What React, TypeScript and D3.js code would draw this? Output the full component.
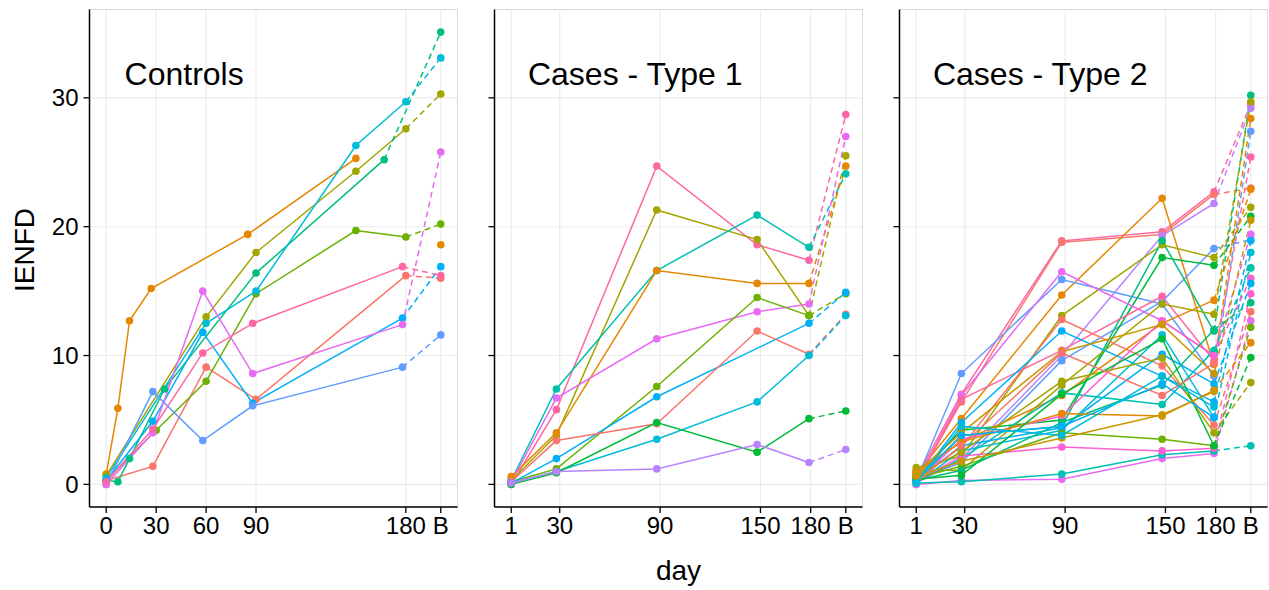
import React from 'react';
import * as d3 from 'd3';

// ggplot hue palette, 15 levels
const palette = [
  '#F8766D', '#E58700', '#C99800', '#A3A500', '#6BB100',
  '#00BA38', '#00BF7D', '#00C0AF', '#00BCD8', '#00B0F6',
  '#619CFF', '#B983FF', '#E76BF3', '#FD61D1', '#FF67A4',
];

const B_DAY = 201;
const panelTitles = ['Controls', 'Cases - Type 1', 'Cases - Type 2'];
const controlTicks = [0, 30, 60, 90, 180];
const caseTicks = [1, 30, 90, 150, 180];
const yTicks = [0, 10, 20, 30];

type Subject = { c: number; v: [number, number][]; b: number | null };

// controls: irregular visit days, [day, IENFD]
const controls: Subject[] = [
  { c: 0, v: [[0, 0.3], [28, 1.4], [60, 9.1], [90, 6.6], [180, 16.2]], b: 16.0 },
  { c: 1, v: [[0, 0.8], [7, 5.9], [14, 12.7], [27, 15.2], [85, 19.4], [150, 25.3]], b: 18.6 },
  { c: 3, v: [[0, 0.7], [60, 13.0], [90, 18.0], [150, 24.3], [180, 27.6]], b: 30.3 },
  { c: 4, v: [[0, 0.3], [30, 4.2], [60, 8.0], [90, 14.8], [150, 19.7], [180, 19.2]], b: 20.2 },
  { c: 6, v: [[0, 0.3], [7, 0.2], [14, 2.0], [35, 7.4], [90, 16.4], [167, 25.2]], b: 35.1 },
  { c: 8, v: [[0, 0.5], [60, 12.5], [90, 15.0], [150, 26.3], [180, 29.7]], b: 33.1 },
  { c: 9, v: [[0, 0.3], [28, 4.9], [58, 11.8], [88, 6.3], [178, 12.9]], b: 16.9 },
  { c: 10, v: [[0, 0.0], [28, 7.2], [58, 3.4], [88, 6.1], [178, 9.1]], b: 11.6 },
  { c: 12, v: [[0, 0.0], [28, 4.0], [58, 15.0], [88, 8.6], [178, 12.4]], b: 25.8 },
  { c: 14, v: [[0, 0.2], [28, 4.3], [58, 10.2], [88, 12.5], [178, 16.9]], b: 16.2 },
];

// cases: visits at fixed days
const caseDays = [1, 28, 88, 148, 179];

// [colour, day1, day30, day90, day150, day180, B]
const type1Rows: (number | null)[][] = [
  [14, 0.0, 5.8, 24.7, 18.6, 17.4, 28.7],
  [3, 0.3, 3.8, 21.3, 19.0, 13.1, 25.5],
  [7, 0.3, 7.4, 16.6, 20.9, 18.4, 24.1],
  [1, 0.6, 4.0, 16.6, 15.6, 15.6, 24.7],
  [12, 0.2, 6.7, 11.3, 13.4, 14.0, 27.0],
  [4, 0.2, 1.2, 7.6, 14.5, 13.1, 14.8],
  [9, 0.1, 2.0, 6.8, null, 12.5, 14.9],
  [0, 0.2, 3.4, 4.7, 11.9, 10.1, 13.2],
  [8, 0.1, 1.0, 3.5, 6.4, 10.0, 13.1],
  [5, 0.0, 0.9, 4.8, 2.5, 5.1, 5.7],
  [11, 0.1, 1.0, 1.2, 3.1, 1.7, 2.7],
];

const type2Rows: (number | null)[][] = [
  [14, 0.5, 7.0, 18.9, 19.6, 22.7, 29.5],
  [0, 0.2, 6.4, 18.8, 19.4, 22.5, 23.0],
  [11, 0.1, 2.0, 10.0, 19.3, 21.8, 29.2],
  [1, 0.8, 5.1, 14.7, 22.2, 9.3, 28.4],
  [10, 0.3, 8.6, 15.9, 14.0, 8.4, 27.4],
  [10, 0.4, 1.7, 9.6, 14.2, 18.3, 19.0],
  [3, 1.3, 2.2, 13.1, 18.6, 17.6, 21.5],
  [5, 0.6, 4.2, 5.0, 17.6, 17.0, 20.8],
  [6, 0.2, 3.8, 4.5, 18.9, 11.9, 30.2],
  [12, 0.0, 6.9, 16.5, 12.7, 10.0, 19.4],
  [14, 0.3, 6.6, 10.4, 14.6, 9.6, 25.4],
  [3, 1.1, 1.1, 7.7, 14.0, 13.2, 29.7],
  [1, 0.9, 3.3, 6.9, 12.5, 14.3, 22.9],
  [0, 0.4, 2.9, 12.8, 9.2, 4.6, 13.4],
  [9, 0.2, 4.8, 11.9, 8.4, 6.4, 18.9],
  [8, 0.1, 2.6, 4.2, 11.6, 5.2, 18.0],
  [7, 0.2, 2.0, 7.1, 6.2, 10.4, 16.8],
  [13, 0.2, 3.5, 5.3, 12.7, 10.0, 16.0],
  [9, 0.3, 3.0, 4.4, 10.1, 7.8, 15.6],
  [12, 0.0, 0.3, 0.4, 2.0, 2.4, 12.7],
  [7, 0.1, 0.2, 0.8, 2.3, 2.6, 3.0],
  [13, 0.2, 2.2, 2.9, 2.6, 2.8, 14.8],
  [4, 0.5, 1.4, 4.0, 3.5, 3.0, 12.2],
  [6, 0.3, 1.1, 4.8, 7.7, 12.0, 14.1],
  [1, 1.0, 3.3, 5.5, 5.3, 7.3, 11.0],
  [3, 0.7, 2.5, 8.0, 9.8, 4.0, 7.9],
  [5, 0.4, 0.7, 7.0, 11.3, 3.0, 9.85],
  [2, 0.9, 4.0, 10.3, 12.4, 8.6, 20.5],
  [0, 0.2, 3.0, 10.2, 6.9, 9.4, null],
  [9, 0.3, 3.8, 4.5, 7.8, 5.2, null],
  [2, 0.6, 1.8, 3.6, 5.4, 7.2, null],
  [8, 0.1, 4.5, 3.8, 8.4, 6.0, null],
];

function fromRows(rows: (number | null)[][]): Subject[] {
  return rows.map(r => ({
    c: r[0] as number,
    v: caseDays
      .map((d, i) => [d, r[i + 1]] as [number, number | null])
      .filter(p => p[1] != null) as [number, number][],
    b: r[6],
  }));
}

const panels = [
  { title: panelTitles[0], data: controls, ticks: controlTicks },
  { title: panelTitles[1], data: fromRows(type1Rows), ticks: caseTicks },
  { title: panelTitles[2], data: fromRows(type2Rows), ticks: caseTicks },
];

const W = 1269, H = 590;
const panelLefts = [89.5, 494.5, 899.5];
const panelW = 368;
const top = 9.5, bottom = 507;
const font = '"Liberation Sans", Arial, sans-serif';

function expand(lo: number, hi: number): [number, number] {
  const p = (hi - lo) * 0.05;
  return [lo - p, hi + p];
}

export default function App() {
  const allVals: number[] = [];
  panels.forEach(p => p.data.forEach(s => {
    s.v.forEach(d => allVals.push(d[1]));
    if (s.b != null) allVals.push(s.b);
  }));
  const y = d3.scaleLinear()
    .domain(expand(Math.min(0, d3.min(allVals)!), d3.max(allVals)!))
    .range([bottom, top]);

  return (
    <svg width={W} height={H} style={{ position: 'absolute', left: 0, top: 0, background: '#fff' }}
      fontFamily={font}>
      {panels.map((p, pi) => {
        const left = panelLefts[pi];
        const x = d3.scaleLinear()
          .domain(expand(p.ticks[0], B_DAY))
          .range([left, left + panelW]);
        const tickVals = [...p.ticks, B_DAY];
        const tickLabels = [...p.ticks.map(String), 'B'];
        const line = d3.line<[number, number]>().x(d => x(d[0])).y(d => y(d[1]));

        return (
          <g key={pi}>
            <rect x={left} y={top} width={panelW} height={bottom - top} fill="#fff" stroke="#d9d9d9" strokeWidth={1} />
            {yTicks.map(t => (
              <line key={'gy' + t} x1={left} x2={left + panelW} y1={y(t)} y2={y(t)} stroke="#ebebeb" strokeWidth={1.1} />
            ))}
            {tickVals.map(t => (
              <line key={'gx' + t} x1={x(t)} x2={x(t)} y1={top} y2={bottom} stroke="#ebebeb" strokeWidth={1.1} />
            ))}
            {p.data.map((s, i) => (
              <path key={'l' + i} d={line(s.v) || ''} fill="none" stroke={palette[s.c]} strokeWidth={1.5} />
            ))}
            {p.data.map((s, i) => {
              const last = s.v[s.v.length - 1];
              if (s.b == null || last[0] < 160) return null;
              return (
                <line key={'d' + i} x1={x(last[0])} y1={y(last[1])} x2={x(B_DAY)} y2={y(s.b)}
                  stroke={palette[s.c]} strokeWidth={1.5} strokeDasharray="6,4" />
              );
            })}
            {p.data.map((s, i) => (
              <g key={'p' + i} fill={palette[s.c]}>
                {s.v.map((d, j) => <circle key={j} cx={x(d[0])} cy={y(d[1])} r={3.8} />)}
                {s.b != null && <circle cx={x(B_DAY)} cy={y(s.b)} r={3.8} />}
              </g>
            ))}
            {/* axes */}
            <line x1={left} x2={left} y1={top} y2={bottom} stroke="#000" strokeWidth={1.5} />
            <line x1={left} x2={left + panelW} y1={bottom} y2={bottom} stroke="#000" strokeWidth={1.5} />
            {yTicks.map(t => (
              <line key={'ty' + t} x1={left - 6} x2={left} y1={y(t)} y2={y(t)} stroke="#000" strokeWidth={1.3} />
            ))}
            {pi === 0 && yTicks.map(t => (
              <text key={'yl' + t} x={left - 11} y={y(t)} dy="0.36em" textAnchor="end" fontSize={24}>{t}</text>
            ))}
            {tickVals.map((t, i) => (
              <g key={'tx' + t}>
                <line x1={x(t)} x2={x(t)} y1={bottom} y2={bottom + 6} stroke="#000" strokeWidth={1.3} />
                <text x={x(t)} y={bottom + 27} textAnchor="middle" fontSize={24}>{tickLabels[i]}</text>
              </g>
            ))}
            <text x={x(11)} y={y(31)} fontSize={32}>{p.title}</text>
          </g>
        );
      })}
      <text x={panelLefts[1] + panelW / 2} y={580} textAnchor="middle" fontSize={28}>day</text>
      <text transform={`translate(34,250) rotate(-90)`} textAnchor="middle" fontSize={28}>IENFD</text>
    </svg>
  );
}
